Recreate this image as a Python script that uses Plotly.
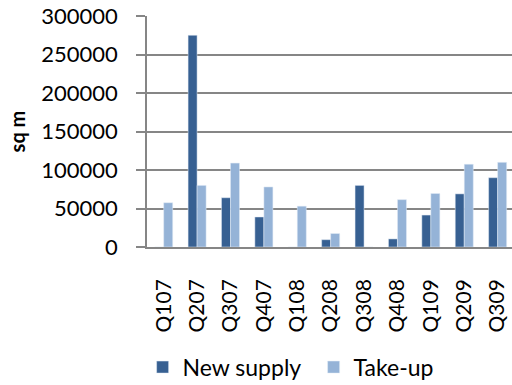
import plotly.graph_objects as go

quarters = ["Q107", "Q207", "Q307", "Q407", "Q108", "Q208", "Q308", "Q408", "Q109", "Q209", "Q309"]
new_supply = [0, 275000, 64000, 39000, 0, 9500, 80000, 10500, 41500, 69000, 90000]
take_up = [57500, 80000, 109000, 78000, 53000, 17500, 0, 61500, 69500, 107500, 110000]
y_ticks = [0, 50000, 100000, 150000, 200000, 250000, 300000]

FONT = "Lato"
AXIS_GREY = "#868686"

fig = go.Figure()
fig.add_bar(name="New supply", x=quarters, y=new_supply, marker_color="#376092")
fig.add_bar(name="Take-up", x=quarters, y=take_up, marker_color="#95B3D7")

fig.update_layout(
    width=512,
    height=385,
    margin=dict(l=147, r=0, t=16, b=138, autoexpand=False),
    paper_bgcolor="white",
    plot_bgcolor="white",
    barmode="group",
    bargap=0.46,
    bargroupgap=0,
    font=dict(family=FONT, size=22, color="black"),
    showlegend=True,
    legend=dict(
        orientation="h",
        x=-0.012,
        xanchor="left",
        y=-0.52,
        yanchor="middle",
        font=dict(size=23),
        itemwidth=30,
        entrywidth=126,
        traceorder="normal",
    ),
)

fig.update_xaxes(
    type="category",
    range=[-0.5, 10.43],
    automargin=False,
    tickangle=-90,
    tickfont=dict(size=21),
    showline=True,
    linecolor=AXIS_GREY,
    linewidth=1.5,
    ticks="",
    ticklabelstandoff=22,
    showgrid=False,
)

fig.update_yaxes(
    range=[0, 300000],
    automargin=False,
    tickvals=y_ticks,
    ticktext=[str(v) for v in y_ticks],
    showline=True,
    linecolor=AXIS_GREY,
    linewidth=1.5,
    ticks="outside",
    ticklen=9,
    tickcolor=AXIS_GREY,
    tickwidth=1.5,
    ticklabelstandoff=14,
    showgrid=True,
    gridcolor=AXIS_GREY,
    gridwidth=1.5,
    zeroline=False,
    title=dict(text="<b>sq m</b>", font=dict(size=20), standoff=10),
)

fig.write_html("out.html")
